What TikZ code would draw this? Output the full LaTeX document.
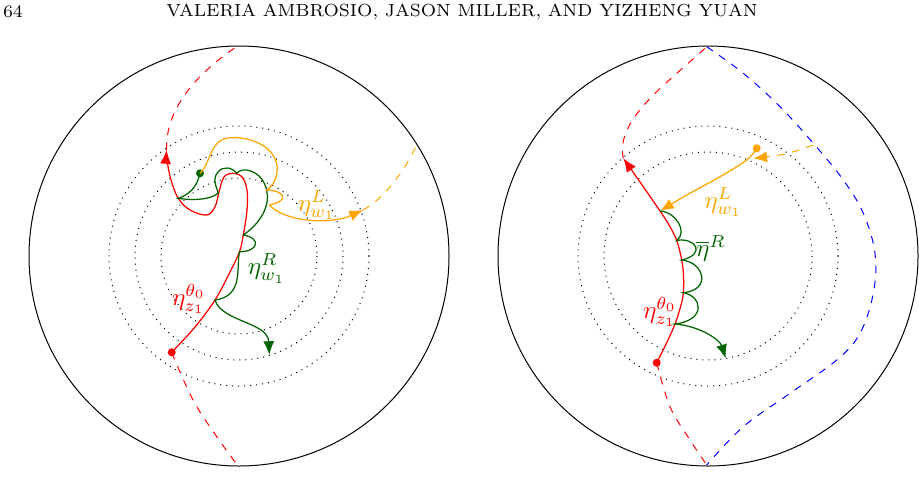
\documentclass[tikz,border=0pt]{standalone}
\usepackage{amsmath}
\usetikzlibrary{arrows.meta,calc}
\definecolor{curveorange}{RGB}{255,165,0}
\definecolor{curvegreen}{RGB}{0,100,0}
\tikzset{
  disk/.style={thin},
  ring/.style={dotted},
  flow/.style={smooth, tension=0.6},
  curve/.style={line width=0.5pt},
  tip/.style={-{Latex[length=5.5pt,width=4.4pt]}},
  endpt/.style={circle, fill, inner sep=0pt, minimum size=3.2pt},
}
\begin{document}
\begin{tikzpicture}[x=0.4pt, y=-0.4pt]
\useasboundingbox (0,0) rectangle (924,494);
% running head
\node [font=\scriptsize] (pageno) at (13,12) {64};
\node [font=\scriptsize] (runhead) at (462,12) {VALERIA AMBROSIO, JASON MILLER, AND YIZHENG YUAN};
%
% left disk
\coordinate (cL) at (239,256);
\draw [disk] (cL) circle (210);
\foreach \r in {78,104,130} \draw [ring] (cL) circle (\r);
\node [endpt, red] (zL) at (171.7,352.3) {};
\node [endpt, curvegreen] (wL) at (200,173.3) {};
\coordinate (tL) at (166.7,150);
\coordinate (aL) at (178.3,198.3);
\coordinate (bL) at (243.3,235);
\coordinate (dL) at (239.5,251.7);
\coordinate (eL) at (215,300);
\coordinate (fL) at (266.7,190);
\coordinate (gL) at (269.3,205);
\draw [red, dashed] (tL) .. controls (165,110) and (195,75) .. (236,47);
\draw [red, dashed] plot [flow] coordinates {(zL.center) (193,400) (217,437) (238,466)};
\draw [red, curve, tip] plot [flow] coordinates {(zL.center) (195,327) (eL) (230,272) (dL) (bL) (247,210) (247,190) (242,177) (233,173.3) (224,177) (219,192) (215,206.7) (206.7,215) (190,210) (aL) (171,180) (167,160) (tL)};
\draw [curvegreen, curve, tip] (wL.center) .. controls (197,188) and (188,195) .. (aL)
  .. controls (195,201) and (212,199) .. (218.3,193)
  .. controls (216,186) and (212,178) .. (218.3,171.7)
  .. controls (223,166) and (232,167) .. (236.7,173.3)
  .. controls (242,166) and (262,170) .. (fL)
  .. controls (270,205) and (262,222) .. (bL)
  .. controls (262,238) and (258,252) .. (dL)
  .. controls (236,268) and (244,296) .. (eL)
  .. controls (222,322) and (268,322) .. (269.3,355);
\draw [curveorange, curve] (wL.center) .. controls (210,165) and (210,140) .. (228,138)
  .. controls (250,135) and (280,148) .. (277,172)
  .. controls (276,182) and (270,188) .. (fL)
  .. controls (282,190) and (292,200) .. (gL);
\draw [curveorange, curve, tip] (gL) .. controls (285,222) and (330,225) .. (363,210);
\draw [curveorange, dashed] (363,210) .. controls (385,198) and (405,170) .. (416.7,145);
\node [curveorange] (etaL) at (316.7,205) {$\eta_{w_1}^L$};
\node [curvegreen] (etaR) at (266.7,268.3) {$\eta_{w_1}^R$};
\node [red] (etaZ) at (189,299) {$\eta_{z_1}^{\theta_0}$};
%
% right disk
\coordinate (cR) at (708,256);
\draw [disk] (cR) circle (210);
\foreach \r in {104,130} \draw [ring] (cR) circle (\r);
\node [endpt, red] (zR) at (656.7,362.7) {};
\node [endpt, curveorange] (wR) at (756.7,148.3) {};
\coordinate (tR) at (623.3,158.3);
\coordinate (hitR) at (660,211);
\coordinate (aR) at (676.7,240.5);
\coordinate (bR) at (681.7,260);
\coordinate (dR) at (683.3,292.7);
\coordinate (eR) at (675,324);
\draw [blue, dashed] plot [flow] coordinates {(706.7,46.7) (743.3,73.3) (780,106.7) (813.3,143.3) (843.3,180) (863.3,213.3) (875,253.3) (873.3,293.3) (860,333.3) (836.7,360) (790,393.3) (743.3,426.7) (706.7,465)};
\draw [red, dashed] (tR) .. controls (615,120) and (665,85) .. (706.7,46.7);
\draw [red, dashed] plot [flow] coordinates {(zR.center) (670,406.7) (690,440) (706.7,465)};
\draw [red, curve, tip] plot [flow] coordinates {(zR.center) (667,342) (eR) (681,305) (dR) (683.5,276) (bR) (aR) (669,225) (hitR) (643.3,186.7) (tR)};
\draw [curveorange, curve, tip] plot [flow] coordinates {(wR.center) (746.7,160) (720,176.7) (686.7,195) (hitR)};
\draw [curveorange, dashed, tip] plot [flow] coordinates {(813.3,145) (785,154) (753.3,158.3)};
\draw [curvegreen, curve, tip] (hitR) .. controls (676,212) and (688,232) .. (aR)
  .. controls (695,237) and (707,254) .. (bR)
  .. controls (704,262) and (712,290) .. (dR)
  .. controls (702,296) and (707,320) .. (eR)
  .. controls (700,326) and (720,340) .. (725.7,358.3);
\node [curveorange] (etaLR) at (723.3,202) {$\eta_{w_1}^L$};
\node [curvegreen] (etaBar) at (711,248.3) {$\overline{\eta}^R$};
\node [red] (etaZR) at (660,312) {$\eta_{z_1}^{\theta_0}$};
\end{tikzpicture}
\end{document}
